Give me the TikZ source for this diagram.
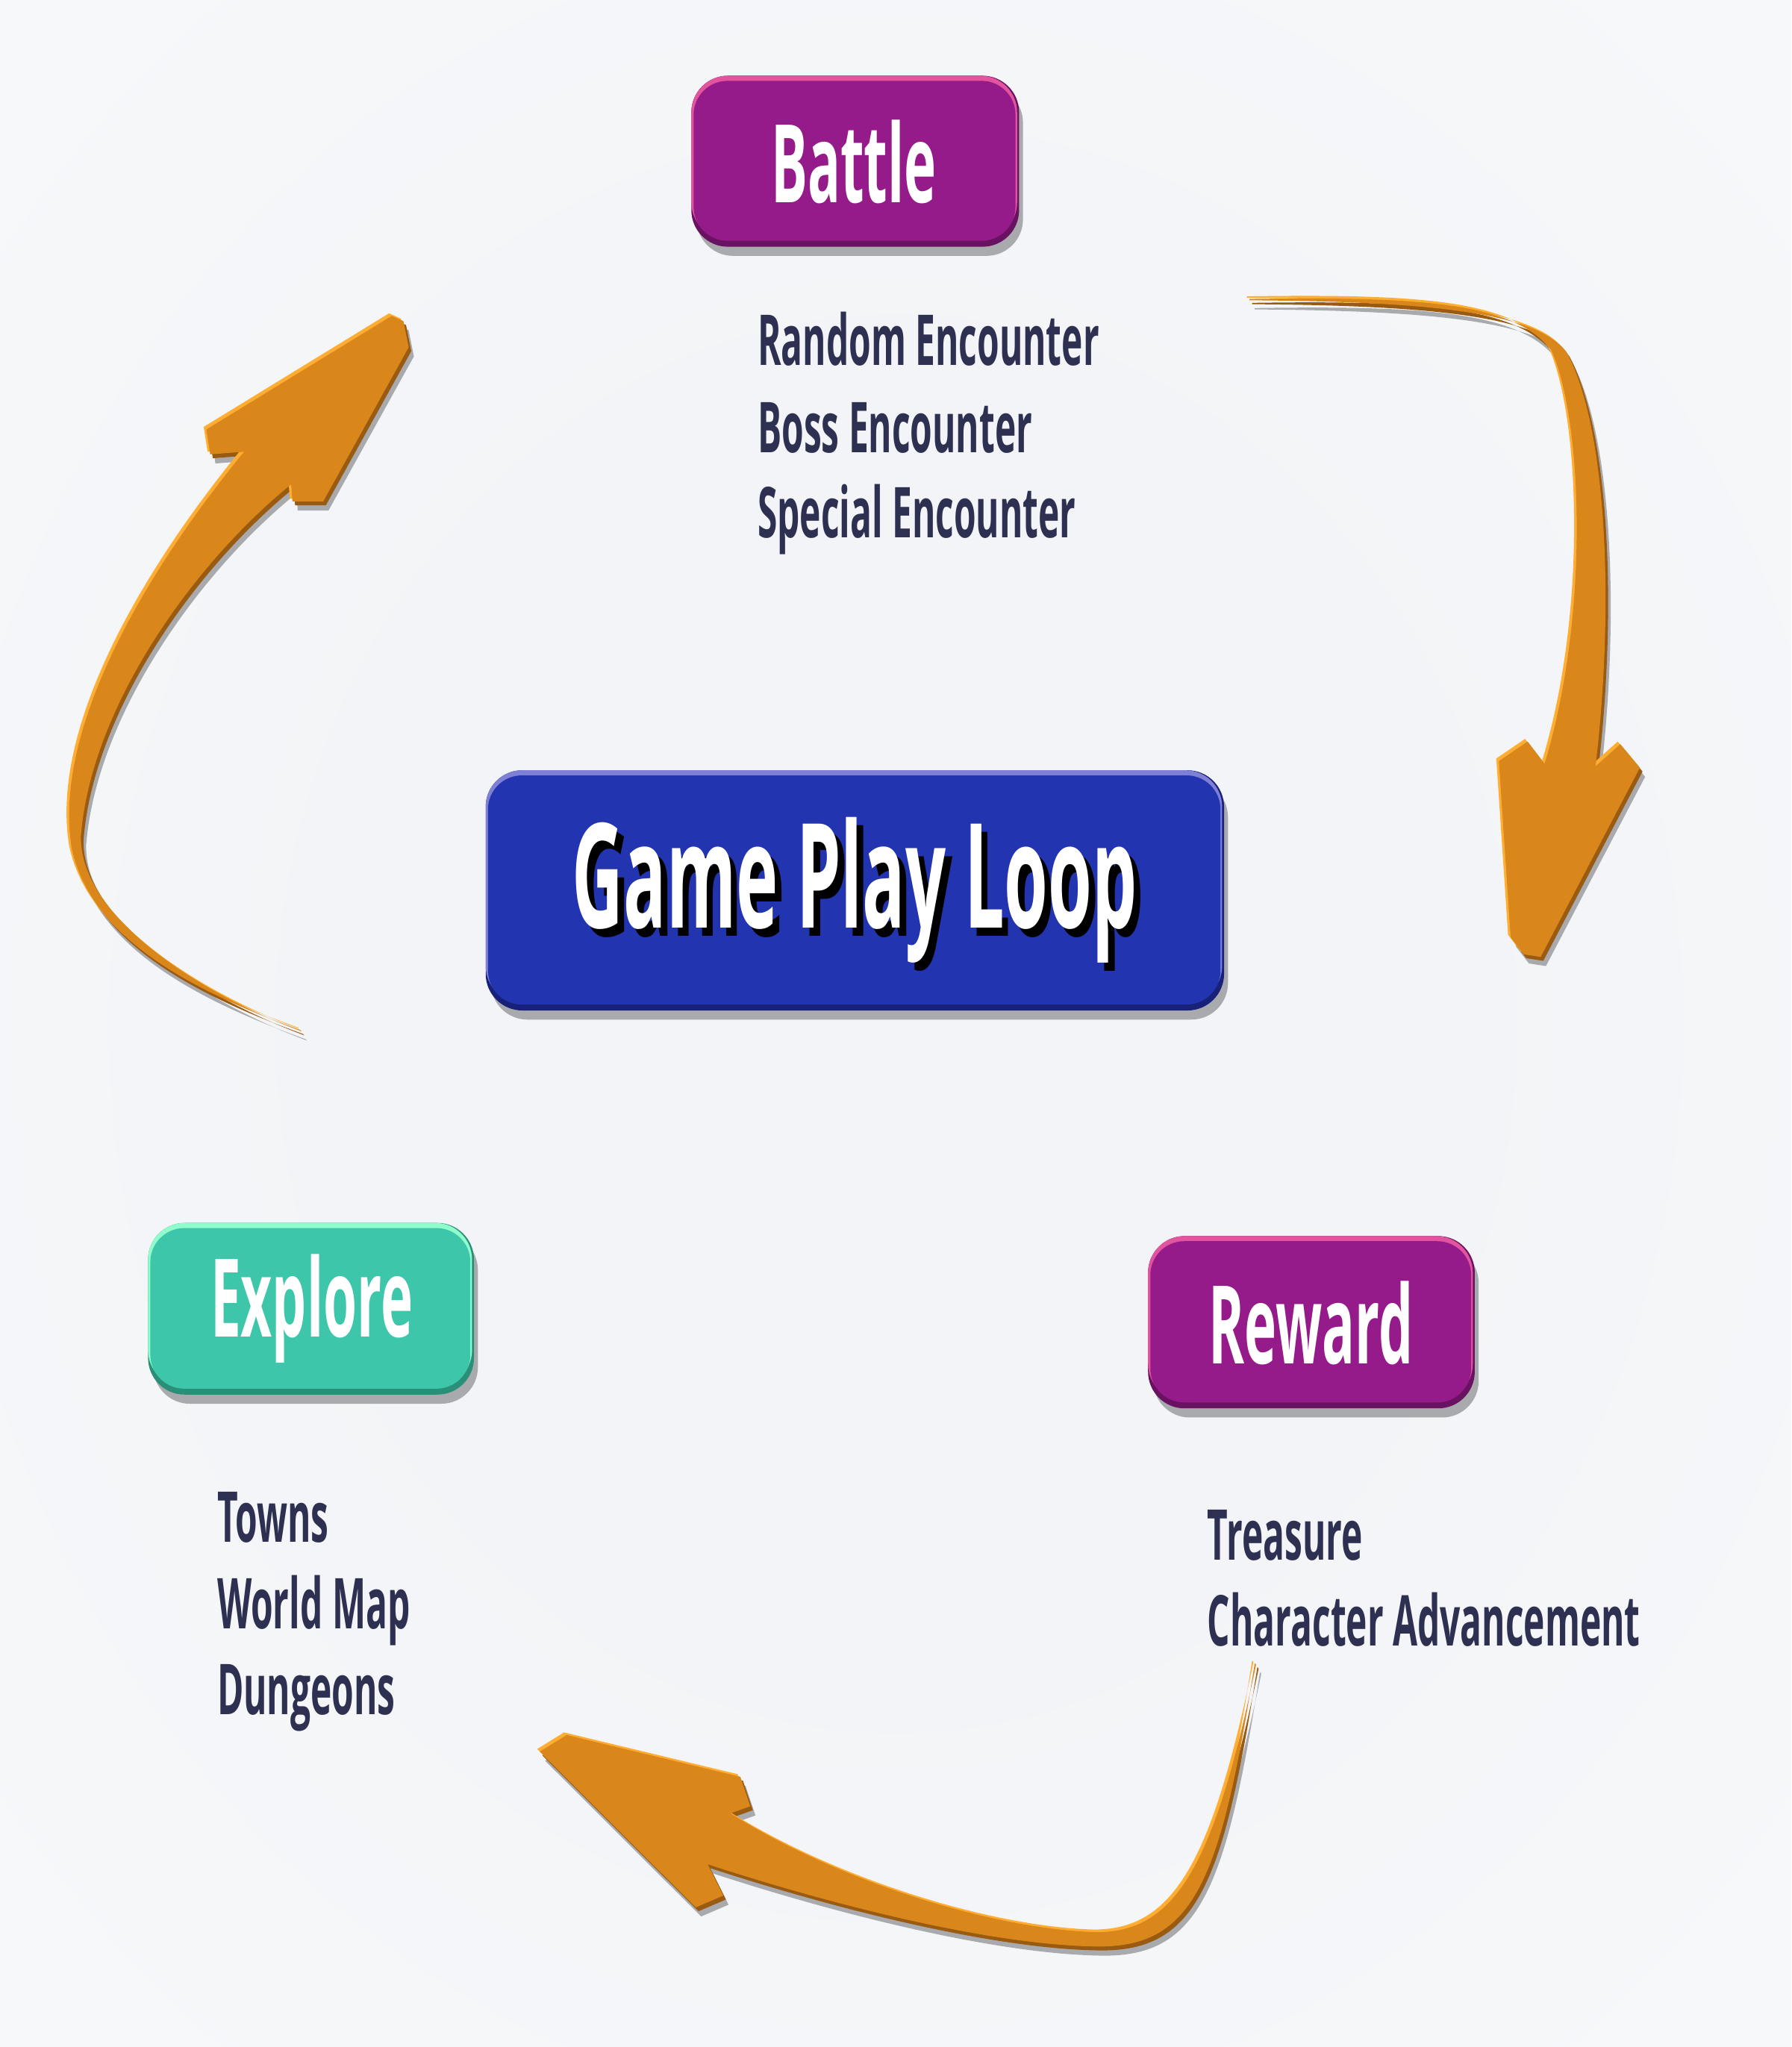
\documentclass[tikz,border=0pt]{standalone}
\usepackage{fontspec}
\newfontfamily\cf{Open Sans}[FakeStretch=0.5]
\newfontfamily\cfi{Open Sans}[FakeStretch=0.509]
\newfontfamily\cfg{Open Sans}[FakeStretch=0.487]
\definecolor{bgin}{HTML}{F2F4F7}
\definecolor{shadowc}{HTML}{A9AAAE}
\definecolor{purpleface}{HTML}{951A8A}
\definecolor{purplelight}{HTML}{E2549E}
\definecolor{purpledark}{HTML}{6A1262}
\definecolor{blueface}{HTML}{2334B0}
\definecolor{bluelight}{HTML}{7E80D6}
\definecolor{bluedark}{HTML}{18217A}
\definecolor{tealface}{HTML}{3DC6AA}
\definecolor{teallight}{HTML}{8FFDCC}
\definecolor{tealdark}{HTML}{2A8F79}
\definecolor{itemc}{HTML}{2D3050}
\definecolor{orangeface}{HTML}{D9861B}
\definecolor{orangelight}{HTML}{FFAE33}
\definecolor{orangedark}{HTML}{995A12}
\pgfdeclareradialshading{bgshade}{\pgfpoint{0bp}{0bp}}{color(0bp)=(bgin); color(15bp)=(bgin); color(66bp)=(white); color(80bp)=(white)}
\tikzset{
  facebox/.style={rectangle, rounded corners=0.52cm, draw=none, inner sep=0pt},
  titletext/.style={font=\cf\bfseries\fontsize{47.4}{50}\selectfont, text=white, inner sep=0pt, anchor=base},
  itemtext/.style={font=\cfi\bfseries\fontsize{30.6}{36}\selectfont, text=itemc, inner sep=0pt, anchor=base west},
  bigtext/.style={font=\cfg\bfseries\fontsize{63.5}{66}\selectfont, inner sep=0pt, anchor=base},
}
% #1 name, #2 cx, #3 cy, #4 w, #5 h, #6 colour prefix
\newcommand\gamebox[6]{%
  \fill[shadowc,rounded corners=0.56cm] ({#2-#4/2+4},{#3-#5/2+8}) rectangle ({#2+#4/2+3},{#3+#5/2+7});
  \fill[#6dark,rounded corners=0.56cm] ({#2-#4/2},{#3-#5/2}) rectangle ({#2+#4/2},{#3+#5/2});
  \fill[#6light,rounded corners=0.56cm] ({#2-#4/2},{#3-#5/2}) rectangle ({#2+#4/2-1.5},{#3+#5/2-6});
  \node[facebox, fill=#6face, minimum width=#4*0.02cm-0.09cm, minimum height=#5*0.02cm-0.17cm] (#1) at ({#2-0.5},{#3-0.3}) {};
}
\newcommand\arrowA[1]{%
  \fill[#1] (957,229) .. controls (1090,227) and (1160,232) .. (1188,268)
    .. controls (1212,320) and (1218,470) .. (1183,585)
    -- (1170,568) -- (1148,583) -- (1157,718) -- (1167,731) -- (1180,733)
    -- (1256,588) -- (1241,570) -- (1222,587)
    .. controls (1236,470) and (1232,330) .. (1200,270)
    .. controls (1178,240) and (1100,231) .. (957,230) -- cycle;}
\newcommand\arrowB[1]{%
  \fill[#1] (961,1274) .. controls (935,1440) and (915,1492) .. (840,1491)
    .. controls (760,1490) and (640,1460) .. (542,1428)
    -- (554,1452) -- (533,1461) -- (413.5,1341.7) -- (434,1329)
    -- (567,1361) -- (574.6,1383.6) -- (559.5,1389)
    .. controls (640,1440) and (760,1478) .. (840,1480)
    .. controls (900,1480) and (930,1430) .. (962,1275) -- cycle;}
\newcommand\arrowC[1]{%
  \fill[#1] (230,789) .. controls (150,760) and (70,720) .. (55,650)
    .. controls (40,560) and (110,440) .. (187,346)
    -- (161,348) -- (158,329) -- (300,242) -- (309,246) -- (313,266)
    -- (247.6,384) -- (224,384) -- (223,371)
    .. controls (150,430) and (70,540) .. (62,640)
    .. controls (60,700) and (150,760) .. (231,790) -- cycle;}
\newcommand\fancyarrow[1]{%
  #1{shadowc, shift={(4,7)}}
  #1{orangedark, shift={(2,3)}}
  #1{orangelight, shift={(-2,-2)}}
  #1{orangeface}}
\begin{document}
\begin{tikzpicture}[x=0.02cm,y=-0.02cm]
\useasboundingbox (0,0) rectangle (1372,1568);
\shade[shading=bgshade] (0,0) rectangle (1372,1568);
% arrows
\fancyarrow{\arrowA}
\fancyarrow{\arrowB}
\fancyarrow{\arrowC}
% boxes
\gamebox{battle}{655}{123.5}{251}{131}{purple}
\node[titletext] (battletext) at (654,155) {Battle};
\gamebox{loop}{654.75}{682}{565.5}{184}{blue}
\node[bigtext, text=black] (loopshadow) at (659.7,716.9) {Game Play Loop};
\node[bigtext, text=white] (looptext) at (654.7,710.9) {Game Play Loop};
\gamebox{explore}{238.2}{1002.5}{249.6}{131.5}{teal}
\node[titletext] (exploretext) at (238.7,1024) {Explore};
\gamebox{reward}{1004.4}{1012.8}{250.2}{132}{purple}
\node[titletext] (rewardtext) at (1004,1044.5) {Reward};
% item lists
\node[itemtext] (b1) at (580,280) {Random Encounter};
\node[itemtext] (b2) at (580,346.5) {Boss Encounter};
\node[itemtext] (b3) at (580,412) {Special Encounter};
\node[itemtext] (e1) at (166,1181.2) {Towns};
\node[itemtext] (e2) at (166,1247.4) {World Map};
\node[itemtext] (e3) at (166,1313.1) {Dungeons};
\node[itemtext] (r1) at (924.5,1194.8) {Treasure};
\node[itemtext] (r2) at (924.5,1261) {Character Advancement};
\end{tikzpicture}
\end{document}
